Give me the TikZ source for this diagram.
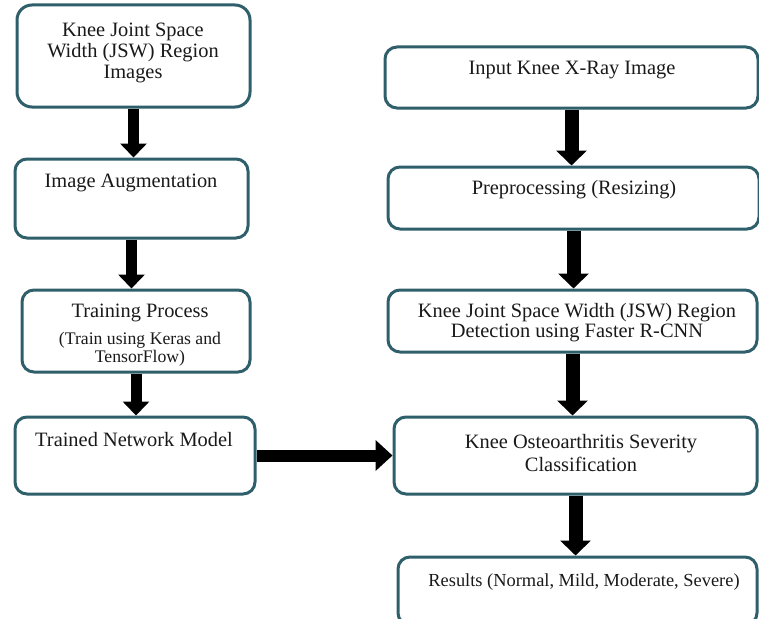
\documentclass[tikz,border=0pt]{standalone}
\usepackage{fontspec}
\setmainfont{Liberation Serif}
\usetikzlibrary{arrows.meta}
\definecolor{boxline}{HTML}{2E5F6A}
\begin{document}
\begin{tikzpicture}[x=1pt,y=-1pt,
		box/.style={draw=boxline,line width=3pt,rounded corners=12pt,inner sep=0pt},
		txt/.style={align=center,text=black!90,font=\fontsize{20.4}{21}\selectfont},
		small/.style={align=center,text=black!90,font=\fontsize{17.7}{18}\selectfont},
		flow/.style={line width=11pt,-{Triangle[length=14pt,width=26pt]}},
		bigflow/.style={line width=14pt,-{Triangle[length=15pt,width=30pt]}}]
	\useasboundingbox (0,0) rectangle (759,618);
	% left column
	\node[box,rounded corners=15pt,minimum width=233pt,minimum height=102pt] (jsw) at (133.5,56) {};
	\node[txt] (jswT) at (133,53) {Knee Joint Space\\Width (JSW) Region\\Images};
	\node[box,minimum width=233pt,minimum height=79pt] (aug) at (131.5,198.5) {};
	\node[txt] (augT) at (131,183) {Image Augmentation};
	\node[box,minimum width=228pt,minimum height=82pt] (train) at (136,331) {};
	\node[txt] (trainT) at (140,313) {Training Process};
	\node[small] (trainS) at (140,349) {(Train using Keras and\\TensorFlow)};
	\node[box,minimum width=240pt,minimum height=77pt] (model) at (135,455.5) {};
	\node[txt] (modelT) at (134,440) {Trained Network Model};
	% right column
	\node[box,minimum width=373pt,minimum height=61pt] (input) at (571.5,77.5) {};
	\node[txt] (inputT) at (572,70) {Input Knee X-Ray Image};
	\node[box,minimum width=371pt,minimum height=62pt] (prep) at (573.5,198) {};
	\node[txt] (prepT) at (574,190) {Preprocessing (Resizing)};
	\node[box,minimum width=369pt,minimum height=62pt] (detect) at (572.5,321) {};
	\node[txt,font=\fontsize{20.4}{20}\selectfont] (detectT) at (577,323) {Knee Joint Space Width (JSW) Region\\Detection using Faster R-CNN};
	\node[box,minimum width=363pt,minimum height=77pt] (classify) at (575.5,455.5) {};
	\node[txt,font=\fontsize{20.4}{23}\selectfont] (classifyT) at (581,453.5) {Knee Osteoarthritis Severity\\Classification};
	\node[box,minimum width=359pt,minimum height=68pt] (result) at (577.5,591) {};
	\node[txt,font=\fontsize{18.4}{19}\selectfont] (resultT) at (584,582) {Results (Normal, Mild, Moderate, Severe)};
	% arrows
	\draw[flow] (jsw.south) -- (jsw.south |- aug.north);
	\draw[flow] (aug.south) -- (aug.south |- train.north);
	\draw[flow] (train.south) -- (train.south |- model.north);
	\draw[flow,line width=12pt,-{Triangle[length=17pt,width=30pt]}] (model.east) -- (classify.west);
	\draw[bigflow] (input.south) -- (input.south |- prep.north);
	\draw[bigflow] (prep.south) -- (prep.south |- detect.north);
	\draw[bigflow] (detect.south) -- (detect.south |- classify.north);
	\draw[bigflow] (classify.south) -- (classify.south |- result.north);
\end{tikzpicture}
\end{document}
